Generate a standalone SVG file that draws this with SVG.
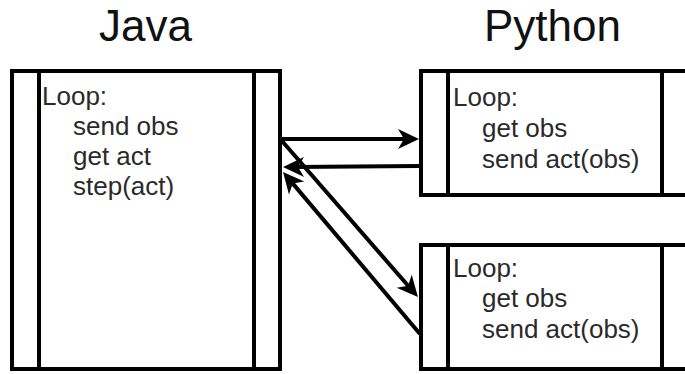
<svg xmlns="http://www.w3.org/2000/svg" width="685" height="374" viewBox="0 0 685 374">
  <style>
    .box { fill: #ffffff; stroke: #000000; stroke-width: 4; }
    .div { stroke: #000000; stroke-width: 4; fill: none; }
    .title { font-family: "Liberation Sans", Arial, sans-serif; font-size: 44px; fill: #111111; }
    .body { font-family: "Liberation Sans", Arial, sans-serif; font-size: 26px; fill: #2a2a2a; }
    .conn { stroke: #000000; stroke-width: 4; fill: none; marker-end: url(#arrow); }
  </style>
  <defs>
    <marker id="arrow" markerUnits="userSpaceOnUse" viewBox="-22 -11 23 22" markerWidth="23" markerHeight="22" refX="-10" refY="0" orient="auto">
      <path d="M0,0 L-21,-10 L-15,0 L-21,10 Z" fill="#000000"/>
    </marker>
  </defs>
  <rect width="685" height="374" fill="#ffffff"/>

  <text class="title" x="145.5" y="41" text-anchor="middle">Java</text>
  <text class="title" x="484" y="41">Python</text>

  <g id="java">
    <rect class="box" x="12" y="71" width="268" height="298"/>
    <line class="div" x1="39" y1="71" x2="39" y2="369"/>
    <line class="div" x1="254" y1="71" x2="254" y2="369"/>
    <text class="body" x="42" y="105">Loop:</text>
    <text class="body" x="73" y="135">send obs</text>
    <text class="body" x="73" y="165">get act</text>
    <text class="body" x="73" y="195">step(act)</text>
  </g>

  <g id="python1">
    <rect class="box" x="421" y="71" width="268" height="124"/>
    <line class="div" x1="448" y1="71" x2="448" y2="195"/>
    <line class="div" x1="662" y1="71" x2="662" y2="195"/>
    <text class="body" x="453" y="106">Loop:</text>
    <text class="body" x="482" y="137">get obs</text>
    <text class="body" x="482" y="168">send act(obs)</text>
  </g>

  <g id="python2">
    <rect class="box" x="421" y="245" width="268" height="124"/>
    <line class="div" x1="448" y1="245" x2="448" y2="369"/>
    <line class="div" x1="662" y1="245" x2="662" y2="369"/>
    <text class="body" x="453" y="277">Loop:</text>
    <text class="body" x="482" y="307">get obs</text>
    <text class="body" x="482" y="338">send act(obs)</text>
  </g>

  <g id="connectors">
    <line class="conn" x1="282" y1="139" x2="409" y2="139"/>
    <line class="conn" x1="419" y1="166" x2="293" y2="167"/>
    <line class="conn" x1="282" y1="141" x2="411.4" y2="289.5"/>
    <line class="conn" x1="420" y1="334" x2="289.5" y2="179.6"/>
  </g>
</svg>
